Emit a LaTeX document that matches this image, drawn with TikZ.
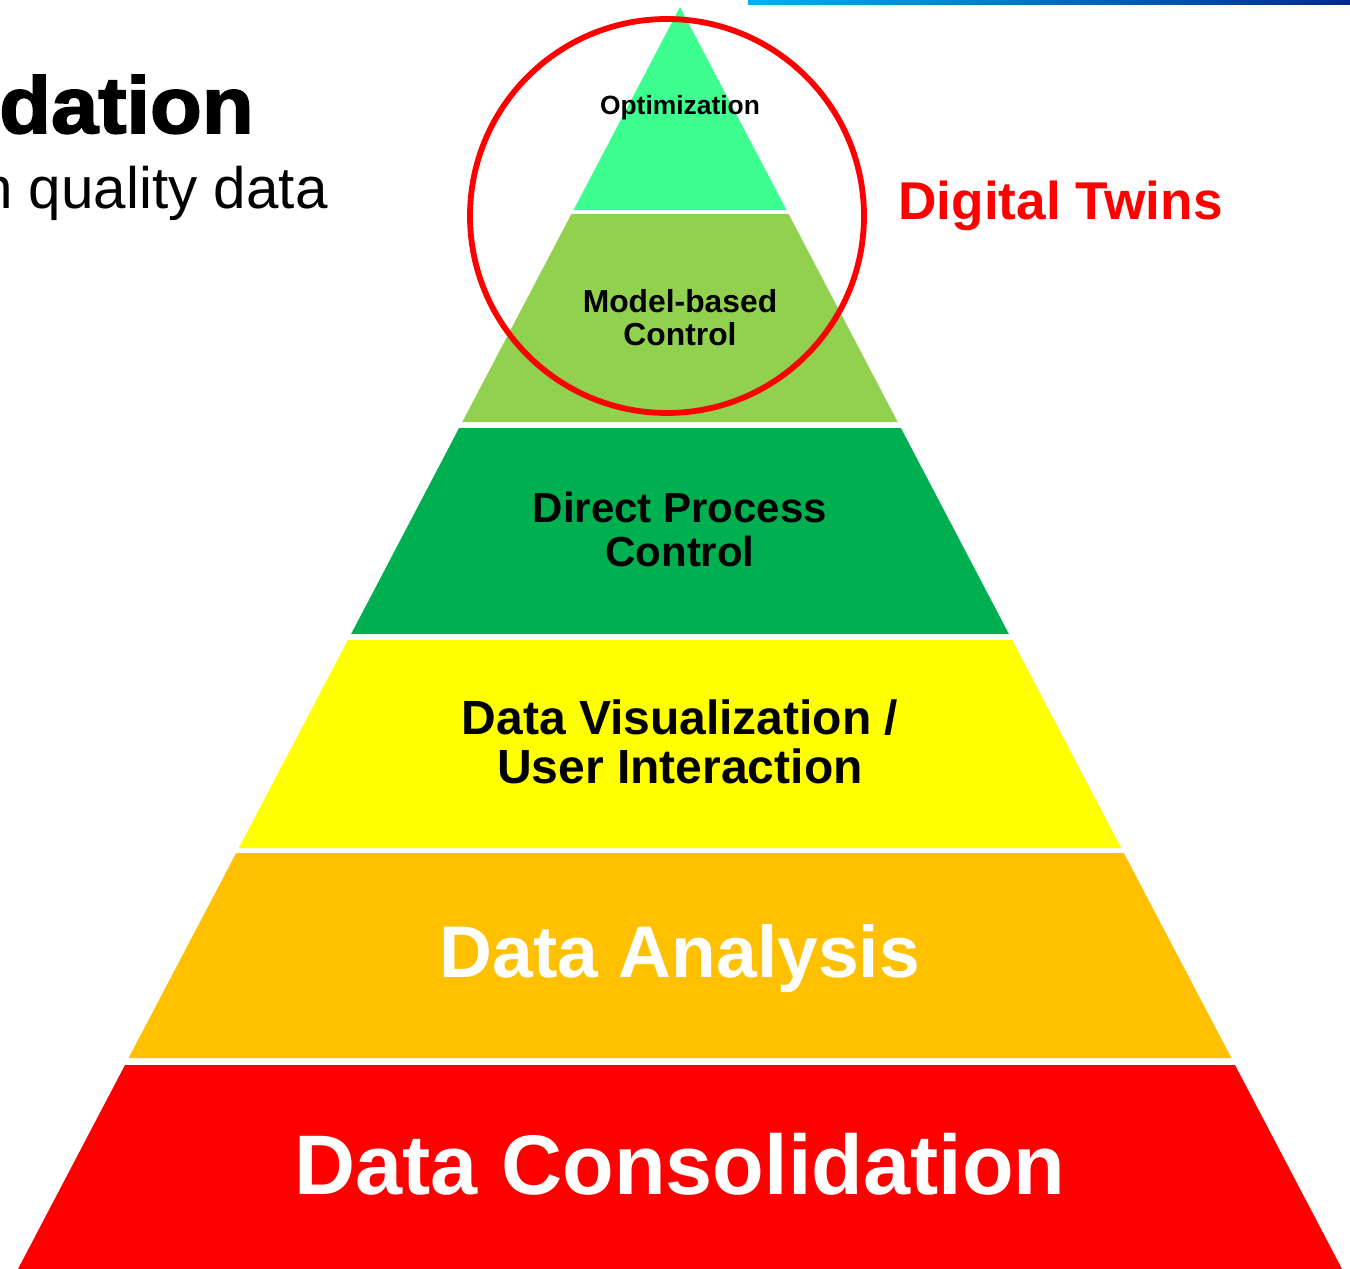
\documentclass[tikz,border=0pt]{standalone}
\usepackage{fontspec}
\setmainfont{Liberation Sans}
\newfontfamily\heavyfont[FakeBold=2.2,FakeStretch=1.06]{Liberation Sans Bold}
\begin{document}
\begin{tikzpicture}[x=0.5pt,y=-0.5pt,
  layer/.style={draw=none},
  lbl/.style={font=\bfseries, align=center, inner sep=0pt, text=black}]
\definecolor{optgreen}{HTML}{3CFF8F}
\definecolor{lightgreen}{HTML}{92D050}
\definecolor{midgreen}{HTML}{00B050}
\definecolor{pyryellow}{HTML}{FFFF00}
\definecolor{pyrorange}{HTML}{FFC000}
\definecolor{pyrred}{HTML}{FF0000}
\definecolor{barblue}{HTML}{00B0F0}
\definecolor{bargreen}{HTML}{00B050}
\definecolor{bardark}{HTML}{002A8C}
\useasboundingbox (0,0) rectangle (1350,1269);
\clip (0,0) rectangle (1350,1269);
\fill[white] (0,0) rectangle (1350,1269);

% accent bar along the top edge
\shade[left color=barblue, middle color=bargreen, right color=bardark]
  (748,0) rectangle (1350,4);

% section title, running off the left edge
\node[anchor=base east, font=\heavyfont\fontsize{40}{40}\selectfont, inner sep=0pt] (title) at (254,133) {dation};
\node[anchor=base east, font=\fontsize{29.2}{30}\selectfont, inner sep=0pt] (subtitle) at (328,208) {n quality data};

% pyramid layers, bottom to top
\fill[layer, pyrred]     (125,1065) -- (1235,1065) -- (1342,1269) -- (18,1269) -- cycle;
\fill[layer, pyrorange]  (236.2,853) -- (1123.8,853) -- (1231.4,1058) -- (128.6,1058) -- cycle;
\fill[layer, pyryellow]  (347.9,640) -- (1012.1,640) -- (1121.2,848) -- (238.8,848) -- cycle;
\fill[layer, midgreen]   (459.1,428) -- (900.9,428) -- (1008.9,634) -- (351.1,634) -- cycle;
\fill[layer, lightgreen] (571.4,214) -- (788.6,214) -- (897.7,422) -- (462.3,422) -- cycle;
\fill[layer, optgreen]   (680,7) -- (786.5,210) -- (573.5,210) -- cycle;

% digital twin ring around the top two layers
\draw[pyrred, line width=2.9pt] (667,216) circle [radius=197];
\node[font=\bfseries\fontsize{26.6}{27}\selectfont, text=pyrred, anchor=base west, inner sep=0pt] (twins) at (898,219) {Digital Twins};

% layer labels
\node[lbl, font=\bfseries\fontsize{13.2}{15}\selectfont] (opt) at (680,108) {Optimization};
\node[lbl, font=\bfseries\fontsize{15.9}{16.5}\selectfont] (mbc) at (680,318) {Model-based\\Control};
\node[lbl, font=\bfseries\fontsize{21}{22}\selectfont] (dpc) at (680,529) {Direct Process\\Control};
\node[lbl, font=\bfseries\fontsize{24}{24.5}\selectfont] (vis) at (680,742) {Data Visualization /\\User Interaction};
\node[lbl, text=white, font=\bfseries\fontsize{36.6}{38}\selectfont] (ana) at (680,959) {Data Analysis};
\node[lbl, text=white, font=\bfseries\fontsize{42.3}{44}\selectfont] (con) at (680,1164) {Data Consolidation};
\end{tikzpicture}
\end{document}
